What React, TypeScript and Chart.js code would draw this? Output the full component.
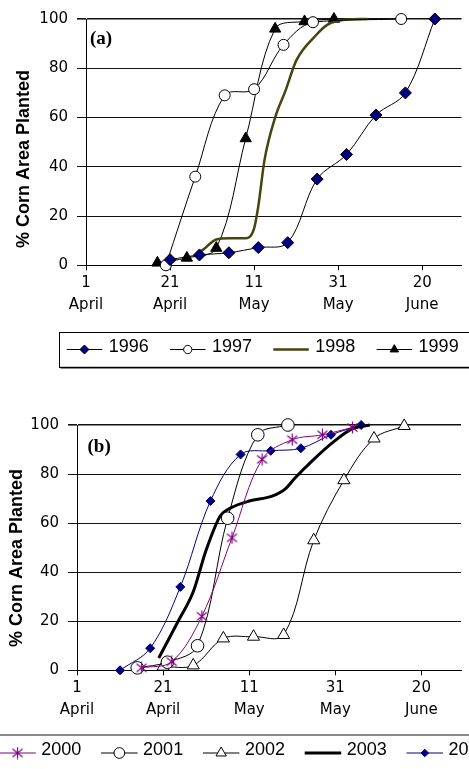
import React, { useEffect, useRef } from 'react';
import { Chart, registerables } from 'chart.js';
import { drawPoint } from 'chart.js/helpers';

Chart.register(...registerables);

// ---- axis ticks (days after 1 April) ----
const tickDays = [0, 20, 40, 60, 80];
const tickDayLabels = ['1', '21', '11', '31', '20'];
const tickMonthLabels = ['April', 'April', 'May', 'May', 'June'];
const yTickStep = 20;
const yTitle = '% Corn Area Planted';

// ---- panel (a) ----
const days1996 = [20, 27, 34, 41, 48, 55, 62, 69, 76, 83];
const pct1996 = [2.3, 4.2, 5.1, 7.2, 9.2, 35, 45, 61, 70, 100];
const days1997 = [19, 26, 33, 40, 47, 54, 75];
const pct1997 = [0, 36, 69, 71.5, 89.5, 98.7, 100];
const days1998 = [26, 28, 31, 34, 38, 40, 41, 42.5, 45, 47.5, 50, 54.5, 57.5, 61.5, 67];
const pct1998 = [4, 6.5, 10.5, 11, 11, 15, 24, 43, 60, 71, 83, 93, 97.7, 99.7, 100];
const days1999 = [17, 24, 31, 38, 45, 52, 59];
const pct1999 = [1, 3, 7, 51.5, 96, 99, 100];

// ---- panel (b) ----
const days2000 = [15, 22, 29, 36, 43, 50, 57, 64];
const pct2000 = [1, 3.5, 22, 54, 86, 94, 96, 99];
const days2001 = [14, 21, 28, 35, 42, 49];
const pct2001 = [1, 3.3, 10, 62, 96, 100];
const days2002 = [20, 27, 34, 41, 48, 55, 62, 69, 76];
const pct2002 = [1.5, 2, 13, 13.7, 14.4, 53, 77.5, 94.5, 99.6];
const days2003 = [19, 23.5, 27, 30, 33.3, 35.5, 40, 45.3, 48.4, 50.7, 55, 59.5, 64, 68];
const pct2003 = [5, 20, 32, 49, 63, 66, 69, 71, 74, 78.5, 86, 93, 98.5, 100];
const days2004 = [10, 17, 24, 31, 38, 45, 52, 59, 66];
const pct2004 = [0, 9, 34, 69, 88, 89.5, 90.5, 96, 100];

const pts = (d: number[], p: number[]) => d.map((x, i) => ({ x, y: p[i] }));

const TICK_FONT = { family: '"DejaVu Sans", sans-serif', size: 15, lineHeight: 1.45 };

function makeAsterisk(color: string) {
  const c = document.createElement('canvas');
  c.width = 13;
  c.height = 13;
  const g = c.getContext('2d')!;
  g.strokeStyle = color;
  g.lineWidth = 1.2;
  g.beginPath();
  g.moveTo(6.5, 0.5); g.lineTo(6.5, 12.5);
  g.moveTo(1.5, 2.5); g.lineTo(11.5, 10.5);
  g.moveTo(11.5, 2.5); g.lineTo(1.5, 10.5);
  g.stroke();
  return c;
}

const decorPlugin = {
  id: 'decor',
  afterDraw(chart: any, _args: any, o: any) {
    const ctx: CanvasRenderingContext2D = chart.ctx;
    // y-axis title
    ctx.save();
    ctx.translate(o.titleX, o.titleY);
    ctx.rotate(-Math.PI / 2);
    ctx.font = 'bold 18px "Liberation Sans", Arial, sans-serif';
    ctx.textAlign = 'center';
    ctx.textBaseline = 'middle';
    ctx.fillStyle = '#000';
    ctx.fillText(yTitle, 0, 0);
    ctx.restore();
    // panel label
    ctx.save();
    ctx.font = 'bold 19px "Liberation Serif", "Times New Roman", serif';
    ctx.textAlign = 'left';
    ctx.textBaseline = 'middle';
    ctx.fillStyle = '#000';
    ctx.fillText(o.panel, o.panelX, o.panelY);
    ctx.restore();
    // legend box
    const b = o.box;
    ctx.save();
    if (b.shadow) {
      ctx.fillStyle = '#8a8a8a';
      ctx.fillRect(b.x + 1, b.y + b.h - 1, b.w, 2.5);
    }
    ctx.strokeStyle = b.color;
    ctx.lineWidth = b.lw;
    ctx.strokeRect(b.x, b.y, b.w, b.h);
    ctx.restore();
    // legend items
    const L = o.legend;
    chart.data.datasets.forEach((ds: any, i: number) => {
      const x = L.startX + i * L.spacing;
      ctx.save();
      ctx.strokeStyle = ds.borderColor;
      ctx.lineWidth = ds.borderWidth;
      ctx.beginPath();
      ctx.moveTo(x, L.lineY);
      ctx.lineTo(x + L.lineLen, L.lineY);
      ctx.stroke();
      if (ds.pointRadius > 0) {
        ctx.fillStyle = ds.pointBackgroundColor;
        ctx.strokeStyle = ds.pointBorderColor;
        ctx.lineWidth = ds.pointBorderWidth;
        drawPoint(ctx, { pointStyle: ds.pointStyle, rotation: 0, radius: ds.pointRadius * L.markerScale, borderWidth: ds.pointBorderWidth } as any, x + L.lineLen / 2, L.lineY);
      }
      ctx.font = '18px "Liberation Sans", Arial, sans-serif';
      ctx.fillStyle = '#000';
      ctx.textAlign = 'left';
      ctx.textBaseline = 'middle';
      ctx.fillText(ds.label, x + L.textOffset, L.textY);
      ctx.restore();
    });
  },
};

function makeOptions(axisWidth: number, xMax: number, padTop: number, padBottom: number, decor: any) {
  return {
    responsive: false,
    animation: false,
    events: [],
    layout: { padding: { top: padTop, bottom: padBottom, left: 0, right: 0 } },
    elements: { line: { capBezierPoints: true } },
    plugins: { legend: { display: false }, tooltip: { enabled: false }, decor },
    scales: {
      x: {
        type: 'linear',
        min: 0,
        max: xMax,
        afterBuildTicks: (s: any) => { s.ticks = tickDays.map((v) => ({ value: v })); },
        afterFit: (s: any) => { s.height = 55; },
        grid: { drawOnChartArea: false, drawTicks: true, tickLength: 5, color: '#000' },
        border: { display: true, color: '#000', width: 1 },
        ticks: {
          autoSkip: false,
          maxRotation: 0,
          minRotation: 0,
          padding: 2,
          color: '#000',
          font: TICK_FONT,
          callback: (_v: any, i: number) => [tickDayLabels[i], tickMonthLabels[i]],
        },
      },
      y: {
        min: 0,
        max: 100,
        afterFit: (s: any) => { s.width = axisWidth; },
        grid: { color: '#111', lineWidth: (c: any) => (c.tick && c.tick.value === 100 ? 1.6 : 1), tickLength: 9, drawTicks: true },
        border: { display: true, color: '#000', width: 1 },
        ticks: { stepSize: yTickStep, padding: 9, color: '#000', font: { family: '"DejaVu Sans", sans-serif', size: 15 } },
      },
    },
  };
}

function thin(label: string, data: any[], color: string, style: any, radius: number, bg: string, pb: string, tension = 0.35) {
  return {
    label, data, borderColor: color, borderWidth: 1, pointStyle: style, pointRadius: radius,
    pointBackgroundColor: bg, pointBorderColor: pb, pointBorderWidth: 1, tension, clip: false, fill: false,
  };
}

export default function App() {
  const refA = useRef<HTMLCanvasElement>(null);
  const refB = useRef<HTMLCanvasElement>(null);

  useEffect(() => {
    const star = makeAsterisk('#800080');
    const chartA = new Chart(refA.current!, {
      type: 'line',
      data: {
        datasets: [
          thin('1996', pts(days1996, pct1996), '#000', 'rectRot', 6, '#000080', '#000'),
          thin('1997', pts(days1997, pct1997), '#000', 'circle', 5.5, '#fff', '#000'),
          { label: '1998', data: pts(days1998, pct1998), borderColor: '#45450f', borderWidth: 2.5, pointRadius: 0, cubicInterpolationMode: 'monotone', clip: false, fill: false },
          thin('1999', pts(days1999, pct1999), '#000', 'triangle', 6.5, '#000', '#000'),
        ],
      },
      options: makeOptions(86, 89.35, 19, 69.7, {
        titleX: 24, titleY: 159, panel: '(a)', panelX: 90, panelY: 39,
        box: { x: 59.5, y: 332.5, w: 440, h: 35, color: '#000', lw: 1, shadow: true },
        legend: { startX: 66.7, spacing: 103.3, lineY: 349.5, textY: 347, lineLen: 35.5, textOffset: 42, markerScale: 0.75 },
      }) as any,
      plugins: [decorPlugin as any],
    });
    const chartB = new Chart(refB.current!, {
      type: 'line',
      data: {
        datasets: [
          thin('2000', pts(days2000, pct2000), '#800080', star, 6, '#800080', '#800080'),
          thin('2001', pts(days2001, pct2001), '#000', 'circle', 6.3, '#fff', '#000'),
          thin('2002', pts(days2002, pct2002), '#000', 'triangle', 7, '#fff', '#000'),
          { label: '2003', data: pts(days2003, pct2003), borderColor: '#000', borderWidth: 3, pointRadius: 0, cubicInterpolationMode: 'monotone', clip: false, fill: false },
          thin('2004', pts(days2004, pct2004), '#000080', 'rectRot', 4.5, '#000080', '#000080'),
        ],
      },
      options: makeOptions(77, 89.2, 35, 43.7, {
        titleX: 17.5, titleY: 168, panel: '(b)', panelX: 87.5, panelY: 57,
        box: { x: -5, y: 345, w: 480, h: 60, color: '#8a8a8a', lw: 2, shadow: false },
        legend: { startX: -0.7, spacing: 101.8, lineY: 363, textY: 360.5, lineLen: 36.5, textOffset: 42, markerScale: 0.85 },
      }) as any,
      plugins: [decorPlugin as any],
    });
    return () => {
      chartA.destroy();
      chartB.destroy();
    };
  }, []);

  return (
    <div style={{ position: 'absolute', left: 0, top: 0, width: 469, height: 769, overflow: 'hidden', background: '#fff' }}>
      <canvas ref={refA} width={469} height={390} style={{ display: 'block' }} />
      <canvas ref={refB} width={469} height={379} style={{ display: 'block' }} />
    </div>
  );
}
